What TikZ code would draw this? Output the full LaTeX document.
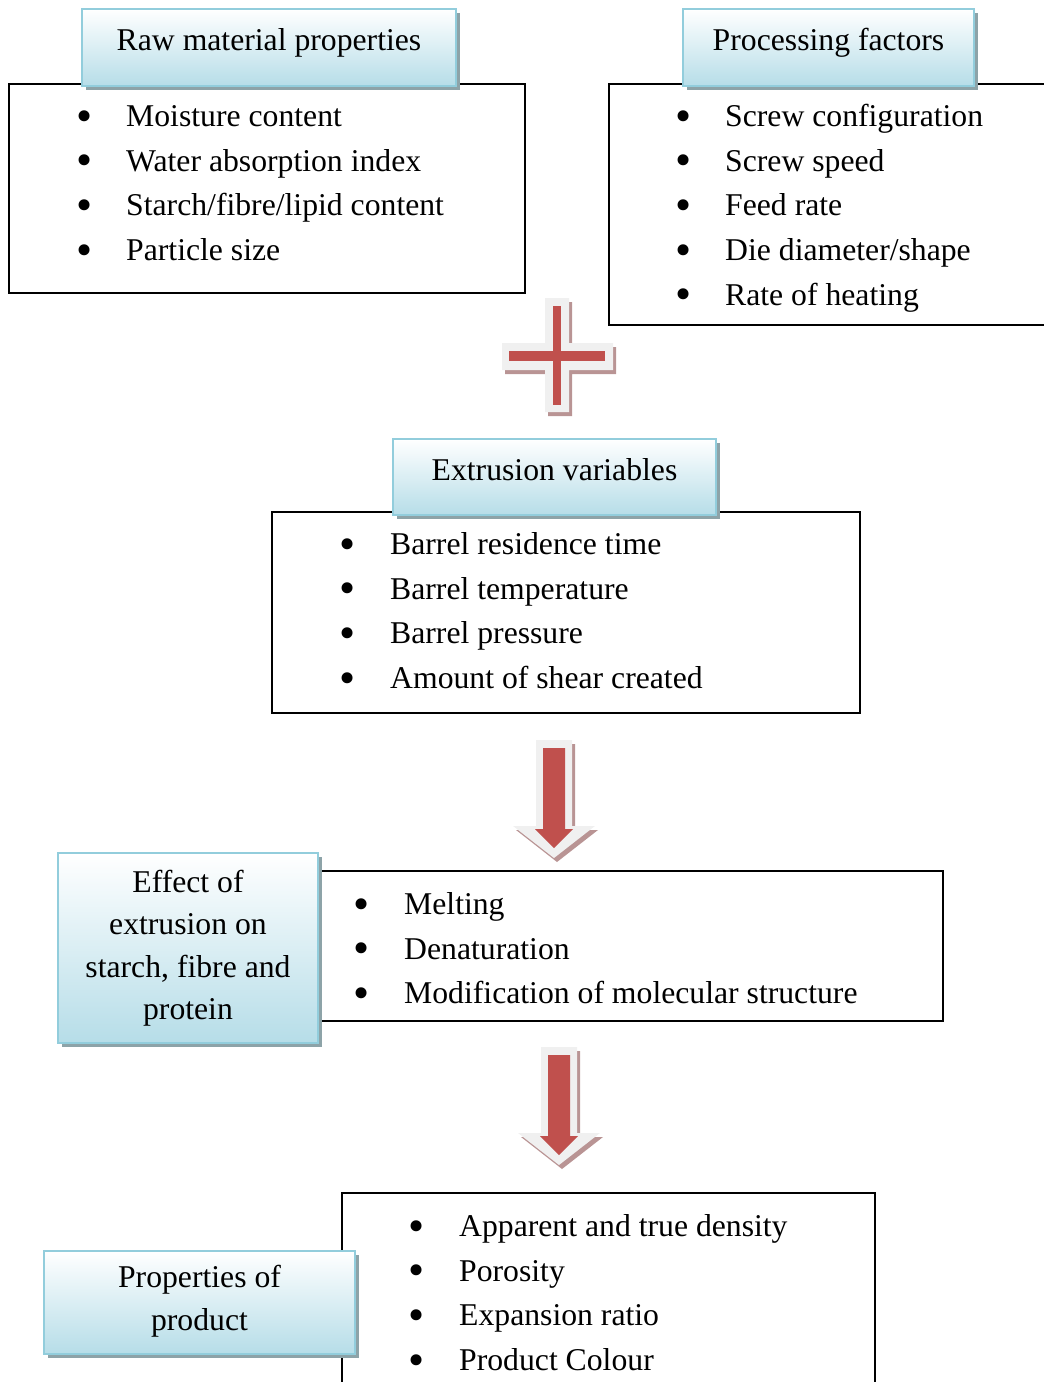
\documentclass[tikz,border=0pt]{standalone}
\usepackage{fontspec}
\setmainfont{Liberation Serif}
\usetikzlibrary{shadows,positioning}

\definecolor{hdrline}{HTML}{92CDDC}
\definecolor{hdrfill}{HTML}{B6DDE8}
\definecolor{hdrshadow}{HTML}{8DA3A8}
\definecolor{markred}{HTML}{C0504D}
\definecolor{markedge}{HTML}{F0F0F0}
\definecolor{markshadow}{HTML}{B99494}

\begin{document}
\begin{tikzpicture}[x=1pt,y=-1pt,
  every node/.style={font=\fontsize{31.7}{42.5}\selectfont},
  header/.style={draw=hdrline, line width=2pt, top color=white, bottom color=hdrfill,
    drop shadow={shadow xshift=4pt, shadow yshift=-4pt, fill=hdrshadow, opacity=1},
    align=center, inner sep=0pt},
  headone/.style={header, text height=21pt, text depth=15pt},
  listbox/.style={draw=black, line width=1.5pt, inner sep=0pt},
  bulletmark/.style={anchor=base, inner sep=0pt, text height=20pt, text depth=0pt,
    font=\fontsize{46}{46}\selectfont},
  itemtext/.style={anchor=base west, inner sep=0pt}]

  \useasboundingbox (0,0) rectangle (1044,1382);

  % list boxes
  \node[listbox, minimum width=516pt, minimum height=209pt] (rawbox) at (267,188.5) {};
  \node[listbox, minimum width=441pt, minimum height=241pt] (procbox) at (829.5,204.5) {};
  \node[listbox, minimum width=588pt, minimum height=201pt] (extbox) at (566,612.5) {};
  \node[listbox, minimum width=625pt, minimum height=150pt] (effbox) at (630.5,946) {};
  \node[listbox, minimum width=533pt, minimum height=207pt] (propbox) at (608.5,1296.5) {};

  % items
  \foreach \txt [count=\i] in {Moisture content, Water absorption index,
      Starch/fibre/lipid content, Particle size} {
    \node[bulletmark] (rawb\i) at (85,{131+44.7*(\i-1)}) {•};
    \node[itemtext] (rawi\i) at (126,{126.5+44.7*(\i-1)}) {\txt};
  }
  \foreach \txt [count=\i] in {Screw configuration, Screw speed, Feed rate,
      Die diameter/shape, Rate of heating} {
    \node[bulletmark] (procb\i) at (684,{131+44.7*(\i-1)}) {•};
    \node[itemtext] (proci\i) at (725,{126.5+44.7*(\i-1)}) {\txt};
  }
  \foreach \txt [count=\i] in {Barrel residence time, Barrel temperature,
      Barrel pressure, Amount of shear created} {
    \node[bulletmark] (extb\i) at (348,{559+44.7*(\i-1)}) {•};
    \node[itemtext] (exti\i) at (390,{554.5+44.7*(\i-1)}) {\txt};
  }
  \foreach \txt [count=\i] in {Melting, Denaturation,
      Modification of molecular structure} {
    \node[bulletmark] (effb\i) at (362,{919+44.5*(\i-1)}) {•};
    \node[itemtext] (effi\i) at (404,{914.5+44.5*(\i-1)}) {\txt};
  }
  \foreach \txt [count=\i] in {Apparent and true density, Porosity,
      Expansion ratio, Product Colour} {
    \node[bulletmark] (propb\i) at (417,{1241+44.7*(\i-1)}) {•};
    \node[itemtext] (propi\i) at (459,{1236.5+44.7*(\i-1)}) {\txt};
  }

  % headers
  \node[headone, minimum width=374pt, minimum height=77pt] (rawhdr) at (269,47.5) {Raw material properties};
  \node[headone, minimum width=291pt, minimum height=77pt] (prochdr) at (828.5,47.5) {Processing factors};
  \node[headone, minimum width=323pt, minimum height=76pt] (exthdr) at (554.5,477) {Extrusion variables};
  \node[header, minimum width=260pt, minimum height=190pt] (effhdr) at (188,948)
    {Effect of\\extrusion on\\starch, fibre and\\protein};
  \node[header, minimum width=311pt, minimum height=103pt, text depth=9pt] (prophdr) at (199.5,1302.5)
    {Properties of\\product};

  % plus sign
  \begin{scope}[shift={(3,4)}]
    \fill[markshadow] (545,298) -- (569,298) -- (569,343) -- (613,343) -- (613,370)
      -- (569,370) -- (569,412) -- (545,412) -- (545,370) -- (502,370) -- (502,343)
      -- (545,343) -- cycle;
  \end{scope}
  \fill[markedge] (545,298) -- (569,298) -- (569,343) -- (613,343) -- (613,370)
    -- (569,370) -- (569,412) -- (545,412) -- (545,370) -- (502,370) -- (502,343)
    -- (545,343) -- cycle;
  \fill[markred] (553,306) rectangle (561,405);
  \fill[markred] (509,351) rectangle (605,361);

  % down arrows
  \foreach \c/\t in {554/740, 559/1047} {
    \fill[markshadow] ({\c-15},{\t+4}) -- ({\c+21},{\t+4}) -- ({\c+21},{\t+90})
      -- ({\c+44},{\t+90}) -- ({\c+3},{\t+122}) -- ({\c-38},{\t+90})
      -- ({\c-15},{\t+90}) -- cycle;
    \fill[markedge] ({\c-18},\t) -- ({\c+18},\t) -- ({\c+18},{\t+86})
      -- ({\c+41},{\t+86}) -- (\c,{\t+118}) -- ({\c-41},{\t+86})
      -- ({\c-18},{\t+86}) -- cycle;
    \fill[markred] ({\c-11},{\t+8}) -- ({\c+11},{\t+8}) -- ({\c+11},{\t+89})
      -- ({\c+19},{\t+89}) -- (\c,{\t+108}) -- ({\c-19},{\t+89})
      -- ({\c-11},{\t+89}) -- cycle;
  }

\end{tikzpicture}
\end{document}
